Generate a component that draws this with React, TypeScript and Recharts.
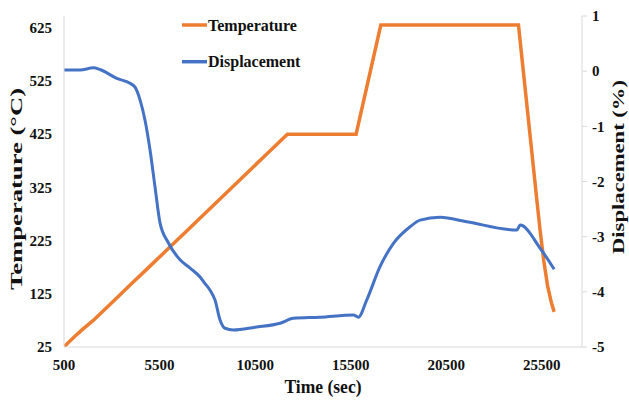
import React from 'react';
import { LineChart, Line, XAxis, YAxis, Legend } from 'recharts';

const timeTicks = [500, 5500, 10500, 15500, 20500, 25500];
const tempTicks = [25, 125, 225, 325, 425, 525, 625];
const dispTicks = [1, 0, -1, -2, -3, -4, -5];

const tempTime = [500, 800, 1100, 1500, 2000, 3000, 4000, 5000, 5958, 7000, 9000, 11000, 12186, 13000, 14000, 15000, 15782, 17074, 18000, 20000, 22000, 24276, 24800, 25238, 25400, 25600, 25800, 26000, 26144];
const tempValue = [25, 36, 46, 59, 74, 108, 143, 177, 210, 246, 315, 384, 425, 425, 425, 425, 425, 630, 630, 630, 630, 630, 451, 301, 247, 187, 140, 108, 91];

const dispTime = [500, 1076, 1337, 2033, 2384, 3258, 3954, 4216, 4477, 4739, 5001, 5262, 5524, 5958, 6571, 7094, 7617, 7879, 8141, 8402, 8664, 8926, 9362, 10500, 11804, 12500, 13898, 15641, 15903, 16336, 17038, 17736, 18608, 19131, 20178, 21574, 24190, 24365, 25411, 26144];
const dispValue = [0.02, 0.02, 0.02, 0.06, 0.03, -0.13, -0.22, -0.29, -0.52, -0.89, -1.43, -2.1, -2.75, -3.11, -3.42, -3.57, -3.73, -3.85, -3.97, -4.15, -4.51, -4.66, -4.69, -4.64, -4.57, -4.48, -4.46, -4.42, -4.46, -4.15, -3.54, -3.12, -2.82, -2.7, -2.65, -2.73, -2.88, -2.79, -3.21, -3.59];

const tempData = tempTime.map((t, i) => ({ t, temp: tempValue[i] }));
const dispData = dispTime.map((t, i) => ({ t, disp: dispValue[i] }));

const FONT = "'Liberation Serif', 'Times New Roman', serif";
const ORANGE = '#ED7D31';
const BLUE = '#4472C4';
const AXIS = '#d9d9d9';

const tickStyle = { fontFamily: FONT, fontWeight: 700, fontSize: 15, fill: '#111' };

const LegendContent = () => (
  <svg width={200} height={80} style={{ display: 'block' }}>
    <line x1={12} y1={17} x2={37} y2={17} stroke={ORANGE} strokeWidth={3.5} />
    <text x={38} y={22.5} fontFamily={FONT} fontWeight={700} fontSize={16} fill="#111">Temperature</text>
    <line x1={12} y1={53.7} x2={37} y2={53.7} stroke={BLUE} strokeWidth={3.5} />
    <text x={38} y={59} fontFamily={FONT} fontWeight={700} fontSize={16} fill="#111">Displacement</text>
  </svg>
);

export default function App() {
  return (
    <div style={{ position: 'absolute', left: 0, top: 0, width: 629, height: 402, background: '#fff' }}>
      <LineChart width={629} height={402} margin={{ top: 16, right: 10, bottom: 10, left: 10 }}>
        <XAxis
          dataKey="t"
          type="number"
          domain={[500, 27600]}
          ticks={timeTicks}
          allowDataOverflow
          stroke={AXIS}
          tickLine={false}
          tickSize={6}
          tickMargin={6}
          height={45}
          tick={tickStyle}
          label={{
            content: () => (
              <text x={323} y={393} textAnchor="middle" fontFamily={FONT} fontWeight={700} fontSize={18} fill="#111" textLength={77} lengthAdjust="spacingAndGlyphs">Time (sec)</text>
            ),
          }}
        />
        <YAxis
          yAxisId="left"
          orientation="left"
          type="number"
          domain={[25, 647]}
          ticks={tempTicks}
          allowDataOverflow
          width={54}
          stroke={AXIS}
          tickLine={false}
          tickSize={6}
          tickMargin={6}
          tick={tickStyle}
          label={{
            content: () => (
              <text x={22} y={189} transform="rotate(-90, 22, 189)" textAnchor="middle" fontFamily={FONT} fontWeight={700} fontSize={17} fill="#111" textLength={202} lengthAdjust="spacingAndGlyphs">Temperature (°C)</text>
            ),
          }}
        />
        <YAxis
          yAxisId="right"
          orientation="right"
          type="number"
          domain={[-5, 1]}
          ticks={dispTicks}
          allowDataOverflow
          width={37}
          stroke={AXIS}
          tickLine={{ stroke: AXIS }}
          tickSize={5}
          tickMargin={5}
          tick={tickStyle}
          label={{
            content: () => (
              <text x={624} y={167} transform="rotate(-90, 624, 167)" textAnchor="middle" fontFamily={FONT} fontWeight={700} fontSize={17} fill="#111" textLength={174} lengthAdjust="spacingAndGlyphs">Displacement (%)</text>
            ),
          }}
        />
        <Legend
          verticalAlign="middle"
          align="center"
          wrapperStyle={{ left: 170, top: 8, width: 200, height: 80 }}
          content={() => <LegendContent />}
        />
        <Line
          yAxisId="left"
          data={tempData}
          dataKey="temp"
          name="Temperature"
          type="linear"
          stroke={ORANGE}
          strokeWidth={3.5}
          dot={false}
          isAnimationActive={false}
        />
        <Line
          yAxisId="right"
          data={dispData}
          dataKey="disp"
          name="Displacement"
          type="monotone"
          stroke={BLUE}
          strokeWidth={3}
          dot={false}
          isAnimationActive={false}
        />
      </LineChart>
    </div>
  );
}
